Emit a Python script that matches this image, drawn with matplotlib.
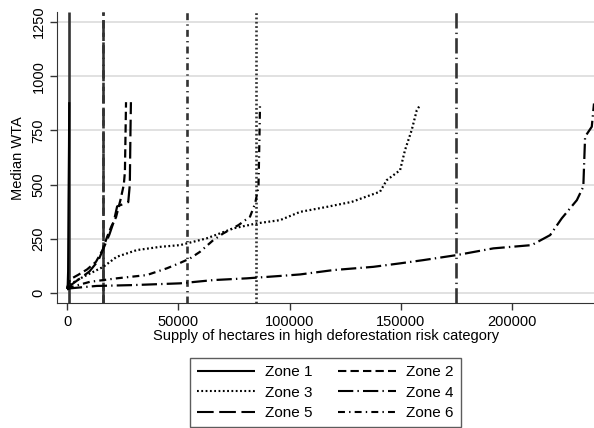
import matplotlib
matplotlib.use("Agg")
import matplotlib.pyplot as plt
from matplotlib.lines import Line2D

plt.rcParams['font.family'] = ['Liberation Sans', 'DejaVu Sans']
plt.rcParams['lines.scale_dashes'] = False

zones = ["Zone 1", "Zone 2", "Zone 3", "Zone 4", "Zone 5", "Zone 6"]

z1_x = [0, 300, 500, 700, 900, 1000]
z1_y = [20, 30, 100, 430, 680, 880]

z2_x = [0, 1500, 5000, 9000, 13000, 16000, 18000, 20000, 22000, 24000, 25500, 26000, 26300, 26500]
z2_y = [25, 65, 85, 110, 145, 200, 260, 310, 350, 430, 500, 560, 750, 880]

z3_x = [0, 2100, 7300, 16300, 22300, 31300, 41800, 50800, 62700, 74700, 85200, 95700,
        104700, 116700, 127900, 140600, 143600, 149600, 151800, 154800, 157100, 158600]
z3_y = [25, 46, 76, 122, 168, 199, 214, 222, 253, 299, 322, 337,
        375, 398, 421, 468, 521, 567, 659, 751, 843, 867]

z4_x = [0, 1350, 13300, 29800, 50800, 65700, 80700, 95700, 104700, 119600, 137600, 149600,
        160100, 175000, 191500, 208700, 217000, 222200, 229000, 231900, 232700, 235700, 236700]
z4_y = [18, 23, 34, 38, 46, 61, 69, 80, 87, 107, 122, 138,
        153, 176, 207, 222, 268, 345, 429, 491, 721, 767, 874]

z5_x = [0, 2000, 6000, 10000, 14000, 16500, 19000, 21000, 22500, 25000, 27500, 28200, 28500, 28700]
z5_y = [20, 40, 70, 100, 150, 210, 270, 330, 400, 410, 420, 500, 750, 880]

z6_x = [0, 2100, 10300, 22300, 35800, 44800, 50800, 55300, 59700, 65700, 70200, 77000,
        82200, 84500, 86000, 86400, 86700]
z6_y = [22, 30, 53, 69, 84, 115, 140, 161, 191, 245, 276, 314,
        353, 414, 491, 700, 880]

vlines = [1030, 16300, 84900, 174750, 16300, 54000]

xs = [z1_x, z2_x, z3_x, z4_x, z5_x, z6_x]
ys = [z1_y, z2_y, z3_y, z4_y, z5_y, z6_y]

styles = [
    (0, ()),
    (0, (6, 3)),
    (0, (1.3, 1.8)),
    (0, (11, 3, 1, 3)),
    (0, (12, 4)),
    (0, (5, 3, 1, 3)),
]

fig = plt.figure(figsize=(5.94, 4.28), dpi=100)
ax = fig.add_axes([0.0965, 0.2913, 0.9035, 0.6806])

for v in [0, 250, 500, 750, 1000, 1250]:
    ax.axhline(v, color='#dcdcdc', lw=1.2, zorder=0)

for i in range(6):
    ax.axvline(vlines[i], color='#333333', lw=1.9, linestyle=styles[i], zorder=2)

for i in range(6):
    ax.plot(xs[i], ys[i], color='black', lw=1.6, linestyle=styles[i], zorder=3)

ax.set_xlim(-4360, 236700)
ax.set_ylim(-46, 1295)
ax.set_xticks([0, 50000, 100000, 150000, 200000])
ax.set_xticklabels(['0', '50000', '100000', '150000', '200000'])
ax.set_yticks([0, 250, 500, 750, 1000, 1250])
ax.set_yticklabels(['0', '250', '500', '750', '1000', '1250'], rotation=90, va='center')
ax.tick_params(labelsize=10.5, length=5, width=1, color='#333333')
for s in ['top', 'right']:
    ax.spines[s].set_visible(False)
for s in ['left', 'bottom']:
    ax.spines[s].set_color('#333333')
ax.set_ylabel('Median WTA', fontsize=10.5, labelpad=5)
ax.set_xlabel('Supply of hectares in high deforestation risk category', fontsize=10.5, labelpad=0)

handles = [Line2D([], [], color='black', lw=1.5, linestyle=styles[i]) for i in range(6)]
order = [0, 2, 4, 1, 3, 5]
leg = fig.legend([handles[i] for i in order], [zones[i] for i in order], ncol=2,
                 loc='lower center', bbox_to_anchor=(0.548, 0.002), fontsize=11,
                 frameon=True, fancybox=False, edgecolor='#333333',
                 handlelength=3.8, columnspacing=1.68, labelspacing=0.43, borderpad=0.45,
                 handletextpad=0.64, borderaxespad=0.0)
leg.get_frame().set_linewidth(1.0)

fig.savefig('out.png', dpi=100)
